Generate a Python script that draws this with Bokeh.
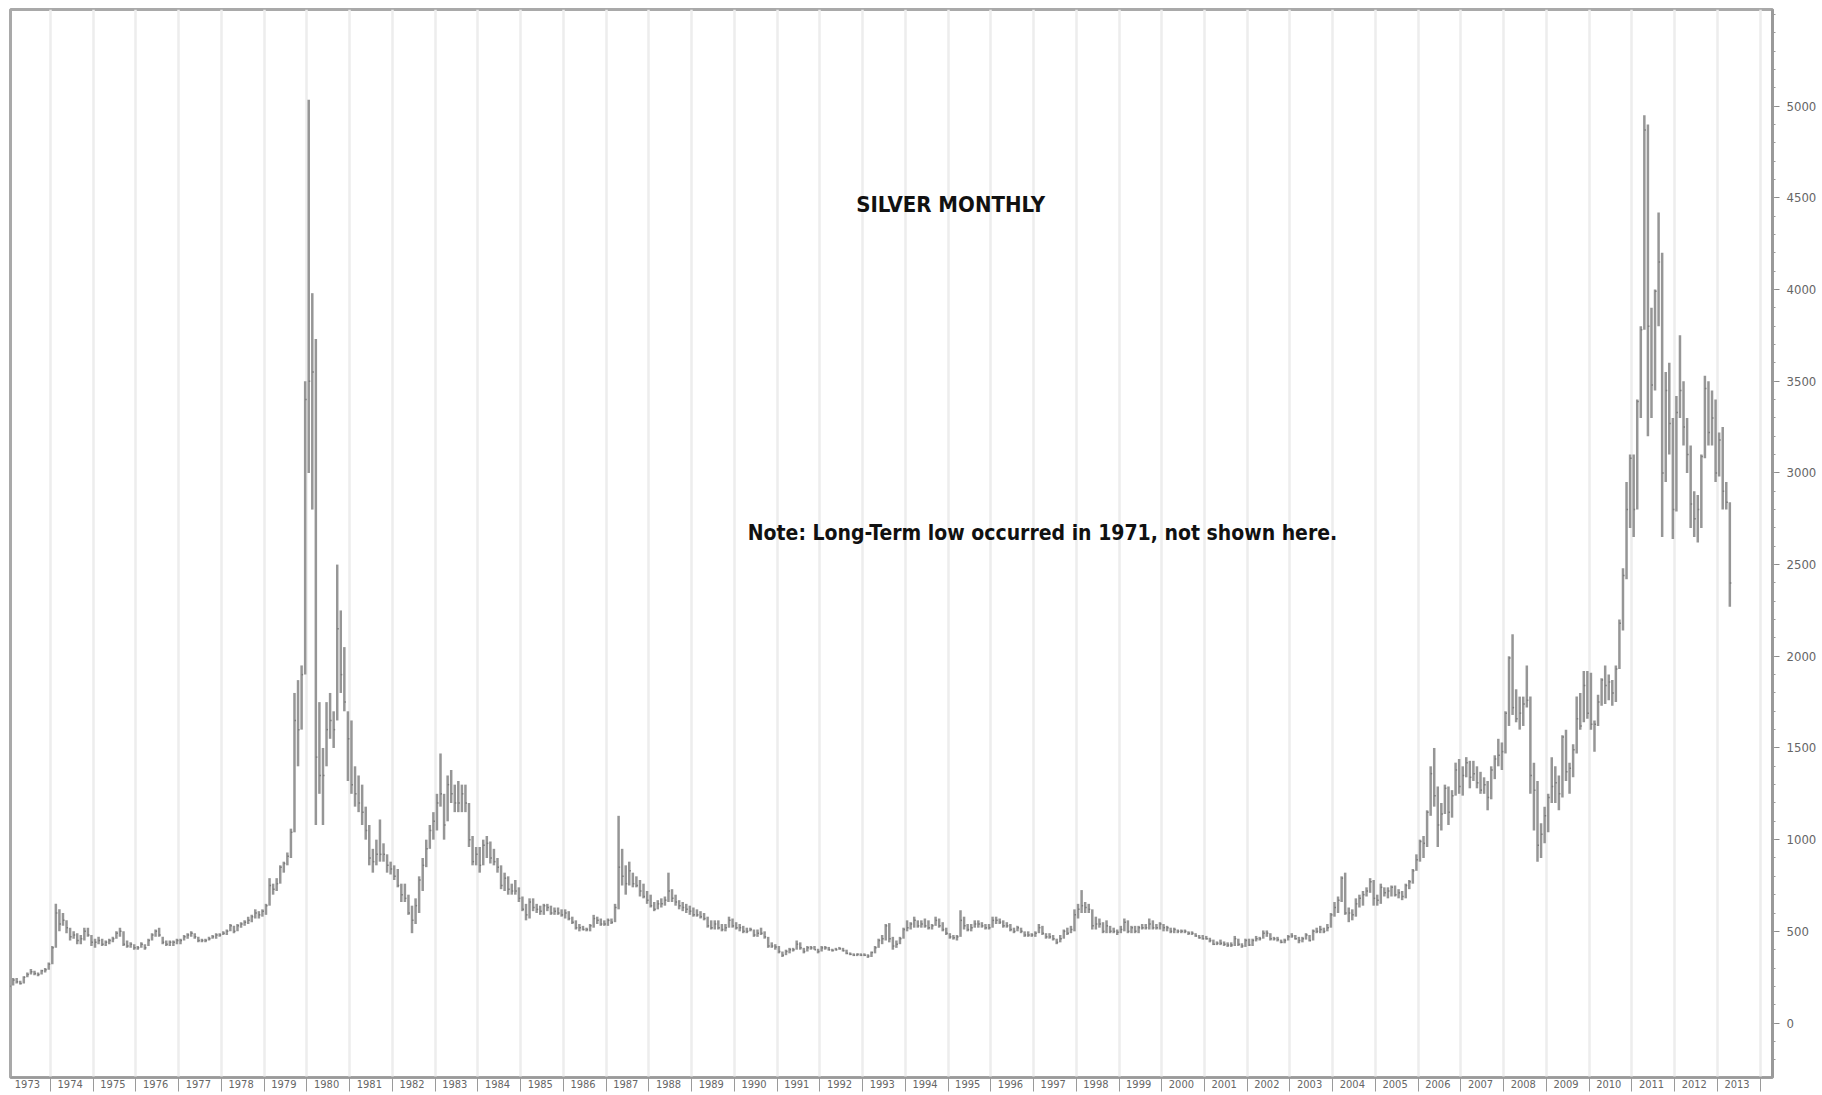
import numpy as np
from bokeh.plotting import figure
from bokeh.models import (FixedTicker, CustomJSTickFormatter,
                          Range1d, Label, ColumnDataSource)
from bokeh.embed import file_html
from bokeh.resources import INLINE

TITLE = "SILVER MONTHLY"
NOTE = "Note: Long-Term low occurred in 1971, not shown here."
FIRST_YEAR = 1973
YEARS = list(range(1973, 2015))
PRICE_TICKS = list(range(0, 5001, 500))

# monthly bars, US cents per ounce, Jan 1973 .. Apr 2013 (one row per year)
HIGH = [
    205, 245, 245, 230, 255, 275, 295, 285, 275, 290, 300, 330,
    420, 650, 620, 600, 560, 520, 500, 490, 480, 520, 520, 480,
    460, 470, 460, 450, 460, 470, 500, 520, 500, 450, 440, 430,
    420, 440, 430, 460, 490, 510, 520, 470, 450, 450, 450, 460,
    460, 480, 490, 500, 490, 470, 460, 460, 470, 480, 490, 490,
    500, 510, 540, 530, 540, 550, 560, 580, 590, 620, 610, 620,
    650, 790, 760, 790, 860, 880, 930, 1060, 1800, 1870, 1950, 3500,
    5035, 3980, 3730, 1750, 1500, 1750, 1800, 1700, 2500, 2250, 2050, 1700,
    1650, 1400, 1350, 1300, 1180, 1080, 950, 1000, 1110, 980, 920, 880,
    860, 840, 760, 760, 700, 640, 680, 800, 900, 1000, 1080, 1150,
    1250, 1470, 1250, 1350, 1380, 1300, 1320, 1300, 1300, 1200, 1020, 960,
    960, 1000, 1020, 990, 950, 900, 860, 820, 800, 760, 780, 740,
    690, 650, 680, 680, 650, 640, 650, 650, 640, 630, 630, 620,
    620, 610, 580, 560, 540, 530, 520, 540, 590, 580, 570, 560,
    570, 570, 650, 1130, 950, 860, 880, 820, 800, 780, 760, 720,
    700, 660, 670, 680, 690, 820, 730, 700, 670, 660, 650, 640,
    630, 620, 610, 600, 580, 560, 560, 560, 540, 540, 580, 570,
    550, 540, 530, 520, 520, 510, 510, 520, 500, 470, 440, 430,
    420, 390, 400, 410, 410, 450, 440, 410, 420, 420, 420, 405,
    420, 420, 415, 405, 410, 415, 410, 400, 385, 380, 380, 380,
    380, 375, 390, 420, 460, 480, 540, 545, 470, 450, 470, 520,
    560, 550, 580, 560, 560, 570, 560, 540, 580, 570, 550, 520,
    490, 480, 480, 615, 580, 540, 540, 560, 560, 550, 540, 540,
    580, 580, 570, 560, 550, 540, 520, 530, 520, 500, 500, 490,
    500, 540, 530, 490, 490, 480, 460, 480, 510, 520, 530, 620,
    650, 725, 660, 650, 620, 580, 570, 550, 560, 530, 520, 510,
    530, 570, 560, 530, 530, 530, 540, 540, 570, 560, 540, 550,
    540, 530, 520, 520, 510, 510, 510, 500, 500, 490, 480, 480,
    475, 465, 455, 445, 455, 445, 440, 440, 475, 460, 435, 460,
    460, 460, 475, 470, 505, 505, 490, 470, 470, 455, 460, 480,
    490, 480, 470, 470, 490, 480, 510, 520, 530, 520, 540, 600,
    660, 690, 800, 820, 630, 620, 680, 700, 720, 740, 790, 780,
    700, 760, 740, 740, 750, 750, 730, 720, 760, 780, 840, 920,
    1000, 1020, 1160, 1400, 1500, 1290, 1200, 1300, 1290, 1270, 1420, 1440,
    1400, 1450, 1430, 1430, 1400, 1370, 1340, 1320, 1400, 1460, 1550, 1530,
    1700, 2000, 2120, 1820, 1780, 1780, 1950, 1780, 1420, 1320, 1090, 1180,
    1250, 1450, 1400, 1350, 1570, 1600, 1420, 1520, 1780, 1800, 1920, 1920,
    1910, 1650, 1790, 1880, 1950, 1900, 1870, 1950, 2200, 2480, 2950, 3100,
    3100, 3400, 3800, 4950, 4900, 3900, 4000, 4420, 4200, 3550, 3600, 3300,
    3420, 3750, 3500, 3300, 3150, 2900, 2880, 3100, 3530, 3500, 3450, 3400,
    3220, 3250, 2950, 2840,
]
LOW = [
    195, 205, 215, 210, 215, 250, 265, 260, 255, 265, 275, 290,
    320, 410, 500, 530, 490, 450, 460, 430, 430, 450, 470, 420,
    410, 430, 420, 420, 430, 440, 460, 470, 420, 410, 410, 400,
    400, 410, 400, 420, 450, 470, 470, 430, 420, 420, 420, 430,
    430, 450, 460, 470, 460, 440, 440, 440, 450, 460, 460, 470,
    480, 480, 500, 490, 500, 520, 530, 540, 550, 570, 570, 580,
    590, 640, 700, 720, 760, 820, 860, 900, 1040, 1400, 1600, 1900,
    3000, 2800, 1080, 1250, 1080, 1400, 1550, 1500, 1650, 1800, 1700, 1320,
    1250, 1180, 1150, 1080, 1000, 860, 820, 860, 880, 880, 820, 810,
    780, 740, 660, 660, 590, 490, 540, 600, 720, 850, 950, 1000,
    1050, 1180, 1000, 1100, 1200, 1150, 1150, 1150, 1150, 960, 860, 860,
    820, 860, 900, 870, 860, 820, 730, 720, 700, 700, 700, 660,
    610, 560, 570, 610, 600, 590, 590, 610, 590, 590, 590, 580,
    570, 560, 540, 510, 500, 505, 500, 500, 520, 540, 530, 530,
    530, 540, 550, 620, 750, 700, 750, 740, 740, 690, 680, 650,
    630, 610, 620, 630, 640, 660, 660, 640, 620, 610, 600, 590,
    580, 580, 570, 560, 520, 510, 510, 510, 500, 500, 520, 520,
    510, 500, 490, 490, 500, 470, 470, 480, 460, 410, 410, 400,
    380, 360, 370, 380, 390, 400, 400, 380, 390, 400, 400, 380,
    390, 400, 395, 390, 395, 400, 390, 375, 370, 365, 365, 365,
    365, 355, 360, 380, 410, 430, 450, 440, 400, 410, 430, 460,
    500, 510, 520, 520, 520, 520, 510, 510, 530, 520, 500, 480,
    460, 455, 450, 470, 510, 500, 500, 520, 520, 520, 510, 510,
    520, 540, 540, 520, 520, 500, 490, 500, 490, 470, 470, 470,
    470, 490, 480, 460, 460, 450, 430, 440, 460, 480, 490, 500,
    570, 600, 600, 600, 510, 510, 520, 490, 490, 490, 490, 480,
    490, 500, 490, 490, 490, 490, 510, 510, 510, 510, 510, 510,
    500, 500, 490, 490, 490, 490, 490, 480, 480, 470, 460, 455,
    455, 440, 425, 425, 425, 420, 415, 415, 420, 420, 410, 415,
    420, 420, 445, 450, 460, 470, 450, 450, 445, 435, 435, 450,
    465, 455, 435, 440, 455, 445, 450, 490, 490, 490, 500, 520,
    580, 600, 660, 590, 550, 560, 580, 630, 640, 690, 710, 640,
    640, 650, 690, 680, 690, 690, 680, 670, 680, 730, 760, 830,
    880, 900, 960, 1130, 1180, 960, 1050, 1140, 1080, 1120, 1240, 1250,
    1240, 1340, 1280, 1320, 1280, 1250, 1250, 1160, 1220, 1330, 1400, 1380,
    1470, 1620, 1680, 1640, 1600, 1620, 1720, 1250, 1050, 880, 900, 980,
    1040, 1200, 1200, 1160, 1230, 1320, 1250, 1340, 1470, 1600, 1640, 1660,
    1600, 1480, 1620, 1730, 1740, 1760, 1730, 1750, 1930, 2140, 2420, 2700,
    2650, 2800, 3300, 3780, 3200, 3300, 3450, 3800, 2650, 2950, 3100, 2640,
    2790, 3300, 3150, 3000, 2700, 2650, 2620, 2700, 3080, 3150, 3150, 2950,
    2980, 2800, 2800, 2270,
]
CLOSE = [
    200, 235, 225, 215, 250, 265, 280, 270, 265, 285, 290, 320,
    410, 600, 540, 560, 520, 470, 480, 450, 460, 500, 480, 440,
    440, 450, 430, 440, 450, 460, 490, 500, 430, 420, 430, 410,
    410, 430, 410, 450, 480, 500, 480, 440, 430, 440, 440, 450,
    450, 470, 480, 490, 470, 450, 450, 450, 460, 470, 480, 480,
    490, 500, 530, 500, 530, 540, 550, 560, 580, 600, 590, 610,
    640, 750, 730, 760, 850, 870, 910, 1040, 1650, 1600, 1900, 3400,
    3500, 3550, 1450, 1350, 1350, 1600, 1650, 1600, 2150, 1900, 1750, 1550,
    1300, 1250, 1200, 1150, 1050, 900, 880, 920, 920, 920, 860, 840,
    800, 750, 700, 680, 600, 560, 640, 780, 860, 950, 1050, 1100,
    1200, 1250, 1080, 1300, 1250, 1200, 1200, 1250, 1200, 1000, 880, 920,
    860, 970, 980, 900, 880, 850, 750, 790, 730, 720, 720, 680,
    620, 590, 660, 630, 620, 610, 640, 630, 600, 610, 600, 590,
    600, 570, 550, 520, 520, 510, 510, 530, 570, 560, 540, 540,
    560, 550, 630, 850, 800, 760, 830, 760, 750, 720, 690, 670,
    640, 620, 650, 650, 670, 720, 680, 660, 640, 630, 620, 610,
    590, 590, 580, 570, 530, 520, 540, 520, 510, 520, 560, 530,
    520, 520, 500, 500, 510, 480, 490, 490, 470, 420, 420, 415,
    390, 370, 390, 400, 400, 430, 410, 390, 410, 410, 400, 390,
    410, 410, 400, 395, 400, 405, 395, 380, 375, 370, 375, 370,
    370, 365, 385, 410, 450, 460, 530, 460, 420, 430, 460, 510,
    520, 540, 560, 530, 540, 530, 520, 530, 560, 530, 510, 490,
    470, 465, 470, 560, 530, 510, 520, 540, 540, 530, 520, 520,
    560, 560, 550, 530, 530, 510, 500, 520, 500, 480, 480, 480,
    490, 520, 490, 470, 470, 460, 440, 460, 500, 490, 510, 590,
    620, 640, 630, 620, 530, 540, 540, 500, 530, 500, 500, 495,
    510, 550, 500, 520, 500, 520, 520, 520, 540, 520, 520, 540,
    520, 520, 500, 510, 500, 500, 500, 490, 490, 475, 465, 460,
    460, 450, 430, 435, 435, 430, 425, 425, 460, 430, 420, 450,
    425, 450, 460, 460, 490, 490, 460, 460, 455, 440, 450, 470,
    475, 460, 450, 460, 480, 450, 500, 500, 510, 500, 520, 590,
    630, 670, 790, 600, 600, 590, 650, 680, 700, 720, 770, 680,
    670, 740, 710, 720, 740, 700, 710, 690, 750, 770, 830, 890,
    990, 980, 1150, 1360, 1240, 1080, 1140, 1280, 1150, 1240, 1380, 1290,
    1350, 1420, 1340, 1360, 1310, 1270, 1300, 1230, 1380, 1440, 1460, 1480,
    1690, 1990, 1720, 1660, 1690, 1740, 1760, 1350, 1270, 970, 1030, 1130,
    1230, 1290, 1310, 1250, 1560, 1370, 1390, 1490, 1660, 1620, 1840, 1690,
    1630, 1630, 1750, 1870, 1840, 1860, 1800, 1930, 2180, 2440, 2800, 3080,
    2800, 3390, 3780, 4870, 3800, 3480, 3990, 4150, 3000, 3450, 3270, 2800,
    3330, 3450, 3250, 3100, 2830, 2750, 2800, 3090, 3460, 3220, 3300, 3000,
    3180, 2900, 2840, 2400,
]

n = len(CLOSE)
t = FIRST_YEAR + (np.arange(n) + 0.5) / 12.0
src = ColumnDataSource(dict(t=t, tr=t + 0.035, hi=HIGH, lo=LOW, cl=CLOSE))

FONT = "'Liberation Sans Narrow', 'Arial Narrow', 'DejaVu Sans Condensed', sans-serif"

p = figure(frame_width=1762, frame_height=1068, output_backend="svg",
           toolbar_location=None, y_axis_location="right",
           x_range=Range1d(1973.064, 2014.29), y_range=Range1d(-297, 5527),
           min_border_left=10, min_border_top=9, min_border_right=42,
           min_border_bottom=16)
p.background_fill_color = "white"
p.border_fill_color = "white"
p.outline_line_color = "#a9a9a9"
p.outline_line_width = 3

# grid: vertical year lines only
p.ygrid.visible = False
p.xgrid.ticker = FixedTicker(ticks=YEARS)
p.xgrid.grid_line_color = "#ededed"
p.xgrid.grid_line_width = 2.5

# bottom axis: year labels inside each year, separators at year starts
xa = p.xaxis[0]
xa.ticker = FixedTicker(ticks=[y + 0.46 for y in YEARS[:-1]], minor_ticks=YEARS)
xa.formatter = CustomJSTickFormatter(code="return Math.floor(tick).toString();")
xa.major_tick_out = 0
xa.major_tick_in = 0
xa.minor_tick_out = 14
xa.minor_tick_in = 0
xa.minor_tick_line_color = "#9a9a9a"
xa.axis_line_color = "#9a9a9a"
xa.axis_line_width = 2
xa.major_label_standoff = -12
xa.major_label_text_font = FONT
xa.major_label_text_font_size = "11px"
xa.major_label_text_color = "#666666"

# right axis
ya = p.yaxis[0]
ya.ticker = FixedTicker(ticks=PRICE_TICKS, minor_ticks=list(range(-200, 5501, 100)))
ya.axis_line_color = "#9a9a9a"
ya.axis_line_width = 3
ya.major_tick_out = 7
ya.major_tick_in = 0
ya.minor_tick_out = 3
ya.minor_tick_in = 0
ya.major_tick_line_color = "#8a8a8a"
ya.minor_tick_line_color = "#9a9a9a"
ya.major_label_standoff = 7
ya.major_label_text_font = FONT
ya.major_label_text_font_size = "13px"
ya.major_label_text_color = "#666666"

# monthly bars (high-low with close tick)
p.segment(x0="t", y0="lo", x1="t", y1="hi", source=src,
          line_color="#969696", line_width=2.5)
p.segment(x0="t", y0="cl", x1="tr", y1="cl", source=src,
          line_color="#7a7a7a", line_width=1.5)

p.add_layout(Label(x=1995.06, y=4463, text=TITLE, text_align="center",
                   text_baseline="middle", text_font=FONT,
                   text_font_style="bold", text_font_size="22px",
                   text_color="#111111"))
p.add_layout(Label(x=1997.21, y=2670, text=NOTE, text_align="center",
                   text_baseline="middle", text_font=FONT,
                   text_font_style="bold", text_font_size="21px",
                   text_color="#111111"))

open("out.html", "w").write(file_html(p, INLINE))
